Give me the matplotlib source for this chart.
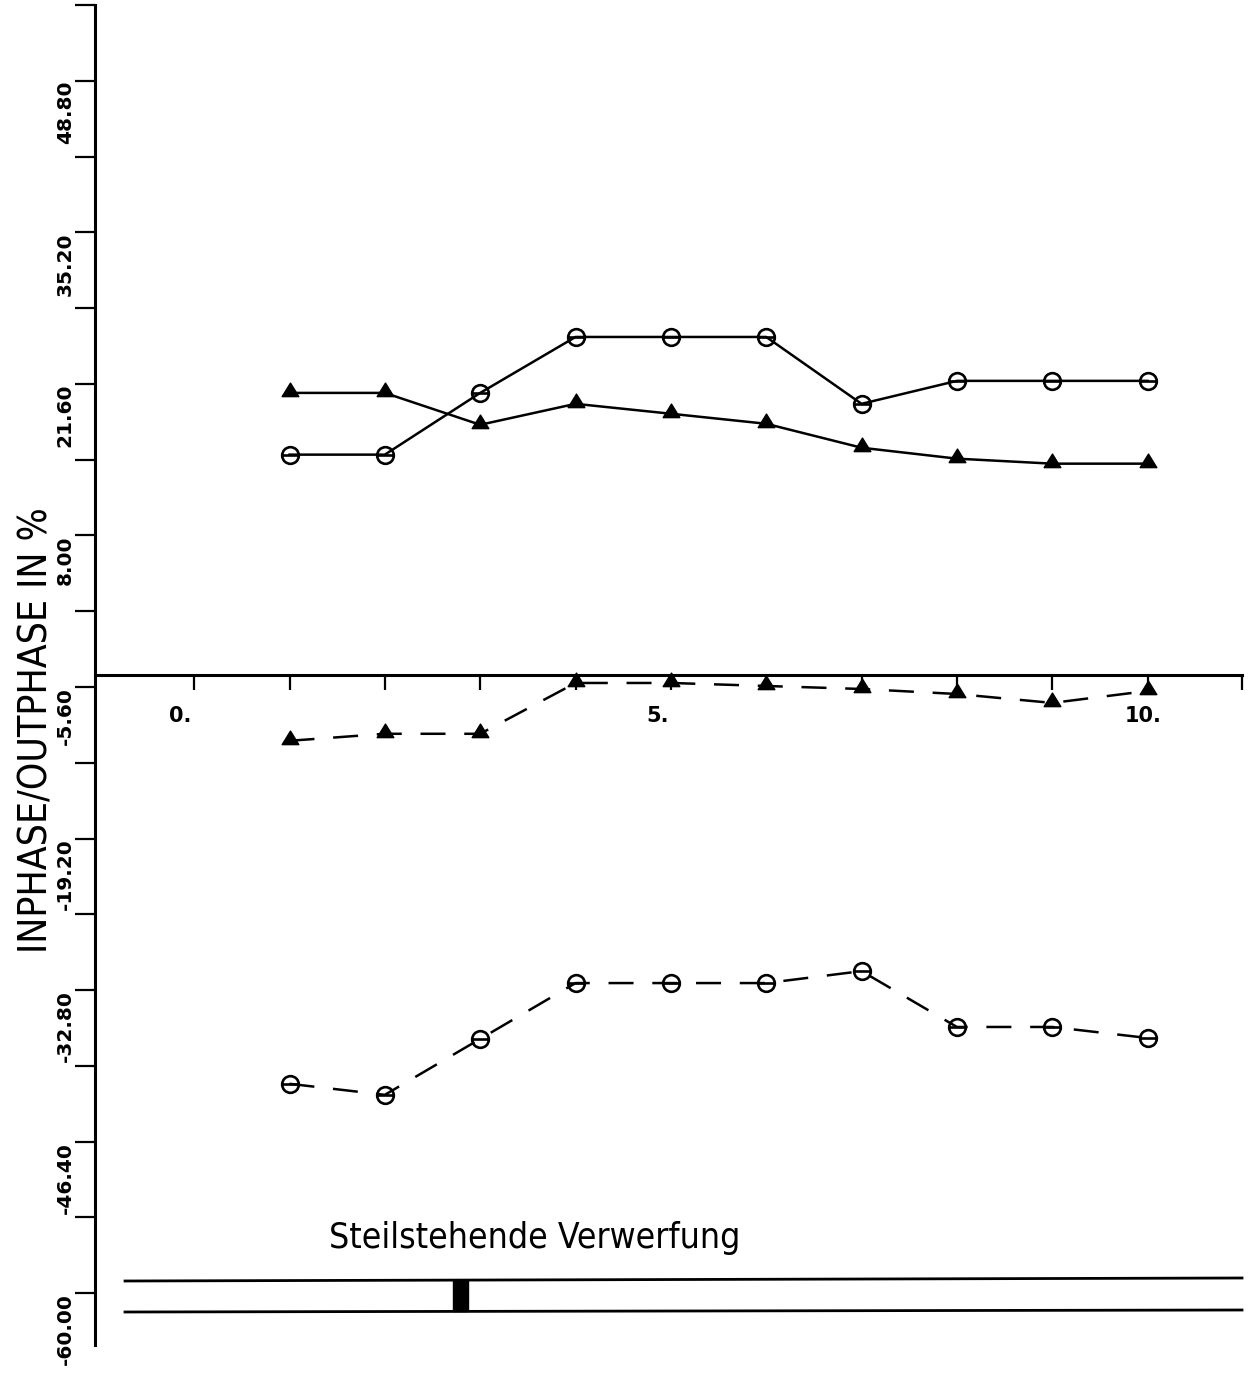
import numpy as np
import matplotlib
matplotlib.use("Agg")
import matplotlib.pyplot as plt
from matplotlib.path import Path

# ---------------- data ----------------
stations = [1, 2, 3, 4, 5, 6, 7, 8, 9, 10]
inphase_circles = [15.25, 15.25, 20.79, 25.81, 25.81, 25.81, 19.81, 21.87, 21.87, 21.87]
inphase_triangles = [20.79, 20.79, 17.93, 19.81, 18.92, 18.02, 15.87, 14.89, 14.44, 14.44]
outphase_triangles = [-10.43, -9.80, -9.80, -5.24, -5.24, -5.51, -5.78, -6.23, -7.03, -5.96]
outphase_circles = [-41.21, -42.20, -37.18, -32.17, -32.17, -32.17, -31.10, -36.11, -36.11, -37.10]

ytick_values = [round(-60 + 6.8 * k, 2) for k in range(18)]
ytick_labels = ["-60.00", "", "-46.40", "", "-32.80", "", "-19.20", "", "-5.60", "",
                "8.00", "", "21.60", "", "35.20", "", "48.80", ""]
xtick_values = list(range(0, 11))
xlabel_values = [0, 5, 10]
xlabel_texts = ["0.", "5.", "10."]
ylabel_text = "INPHASE/OUTPHASE IN %"
caption_text = "Steilstehende Verwerfung"

# ---------------- layout / style ----------------
W, H = 1255, 1376
fig = plt.figure(figsize=(W / 100, H / 100), dpi=100)
ax = fig.add_axes([95 / W, 31 / H, (1242 - 95) / W, (1345 - 5) / H])
x_lo, x_hi = -1.04, 10.99
ax.set_xlim(x_lo, x_hi)
ax.set_ylim(-64.65, 55.6)
axis_cross = -4.53

ax.spines["top"].set_visible(False)
ax.spines["right"].set_visible(False)
ax.spines["left"].set_linewidth(2.2)
ax.spines["bottom"].set_linewidth(2.2)
ax.spines["bottom"].set_position(("data", axis_cross))

ax.set_yticks(ytick_values)
ax.set_yticklabels(ytick_labels)
ax.tick_params(axis="y", direction="out", length=14.5, width=1.6, pad=0,
               labelsize=14.5)
for lab in ax.get_yticklabels():
    lab.set_rotation(90)
    lab.set_va("top")
    lab.set_ha("right")
    lab.set_fontweight("bold")

ax.set_xticks(xtick_values + [x_hi])
ax.set_xticklabels([""] * (len(xtick_values) + 1))
ax.tick_params(axis="x", direction="out", length=11, width=1.6)

xoffs = [-3, -2, 14]
for v, t, dx in zip(xlabel_values, xlabel_texts, xoffs):
    ax.annotate(t, xy=(v, axis_cross), xycoords="data",
                xytext=(dx * 0.72, -22), textcoords="offset points",
                ha="right", va="top", fontsize=15, fontweight="bold")

# markers
circ = Path.unit_circle()
circ_bar = Path(np.concatenate([circ.vertices, [[-1, 0], [1, 0]]]),
                np.concatenate([circ.codes, [Path.MOVETO, Path.LINETO]]))
tri = Path([[0, 1.0], [-0.8, -0.3], [0.8, -0.3], [0, 1.0]],
           [Path.MOVETO, Path.LINETO, Path.LINETO, Path.CLOSEPOLY])

lw = 1.8
dash = (0, (10, 7.5))
ax.plot(stations, inphase_circles, color="black", lw=lw, marker=circ_bar,
        ms=12, mfc="none", mec="black", mew=1.9, clip_on=False)
ax.plot(stations, inphase_triangles, color="black", lw=lw, marker=tri,
        ms=15, mfc="black", mec="black", mew=1.0, clip_on=False)
ax.plot(stations, outphase_triangles, color="black", lw=lw, ls=dash, marker=tri,
        ms=15, mfc="black", mec="black", mew=1.0, clip_on=False)
ax.plot(stations, outphase_circles, color="black", lw=lw, ls=dash, marker=circ_bar,
        ms=12, mfc="none", mec="black", mew=1.9, clip_on=False)

# y label
fig.text(37 / W, 1 - 730 / H, ylabel_text, rotation=90, ha="center", va="center",
         fontsize=28, family="DejaVu Sans", fontstretch="condensed")

# fault sketch
fig.text(535 / W, 1 - 1238 / H, caption_text, ha="center", va="center",
         fontsize=25.5, family="DejaVu Sans", fontstretch="condensed")
fig.add_artist(plt.Line2D([125 / W, 1242 / W], [1 - 1281 / H, 1 - 1278 / H],
                          color="black", lw=2.0))
fig.add_artist(plt.Line2D([125 / W, 1242 / W], [1 - 1312 / H, 1 - 1310 / H],
                          color="black", lw=2.0))
fig.add_artist(plt.Rectangle((453 / W, 1 - 1311 / H), 15 / W, 31 / H,
                             color="black"))

fig.savefig("out.png", dpi=100)
